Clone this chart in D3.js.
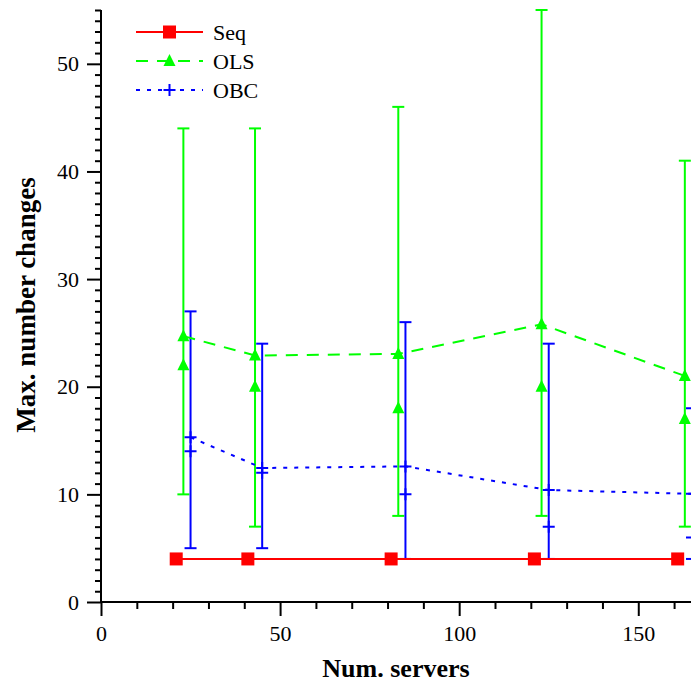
<!DOCTYPE html>
<html>
<head>
<meta charset="utf-8">
<script src="https://cdn.jsdelivr.net/npm/d3@7"></script>
<style>
  body { margin: 0; background: #fff; }
  svg { display: block; font-family: "Liberation Serif", "Times New Roman", serif; }
  svg text { font-family: "Liberation Serif", "Times New Roman", serif; }
</style>
</head>
<body>
<div class="d3-div"></div>
<script>
// Data: x = number of servers, y = max. number changes.
var servers = [20, 40, 80, 120, 160];

var seqValues = [4, 4, 4, 4, 4];

var olsMean = [24.7, 22.9, 23.05, 25.8, 21.0];
var olsMedian = [22, 20, 18, 20, 17];
var olsLow = [10, 7, 8, 8, 7];
var olsHigh = [44, 44, 46, 55, 41];

var obcMean = [15.3, 12.45, 12.6, 10.4, 10.05];
var obcMedian = [14, 12, 10, 7, 6];
var obcLow = [5, 5, 4, 4, 4];
var obcHigh = [27, 24, 26, 24, 18];

var xTicks = [0, 50, 100, 150];
var yTicks = [0, 10, 20, 30, 40, 50];

// Global sizes.
var width = 691;
var height = 686;

var svg = d3.select(".d3-div")
    .append("svg")
    .attr("width", width)
    .attr("height", height);

// Scales (plot runs off the right edge like the original).
var xScale = d3.scaleLinear().domain([0, 165]).range([101, 692]);
var yScale = d3.scaleLinear().domain([0, 55]).range([602, 10]);

// Series, each one shifted a little in x so the bars do not overlap.
var series = [
    {name: "Seq", color: "#ff0000", dash: null, shift: 1, marker: "square", mean: seqValues},
    {name: "OLS", color: "#00ff00", dash: "12,9", shift: 3, marker: "triangle", mean: olsMean,
     median: olsMedian, low: olsLow, high: olsHigh},
    {name: "OBC", color: "#0000ff", dash: "4,7", shift: 5, marker: "plus", mean: obcMean,
     median: obcMedian, low: obcLow, high: obcHigh}
];

/* Draw one marker of the given kind at (cx, cy). */
function drawMarker(g, kind, cx, cy, color) {
    if (kind === "square") {
        g.append("rect").attr("x", cx - 6.5).attr("y", cy - 6.5)
            .attr("width", 13).attr("height", 13).attr("fill", color);
    } else if (kind === "triangle") {
        g.append("path")
            .attr("d", "M" + cx + "," + (cy - 7) + "L" + (cx + 6) + "," + (cy + 5) + "L" + (cx - 6) + "," + (cy + 5) + "Z")
            .attr("fill", color);
    } else {
        g.append("path")
            .attr("d", "M" + (cx - 6) + "," + cy + "H" + (cx + 6) + "M" + cx + "," + (cy - 6) + "V" + (cy + 6))
            .attr("stroke", color).attr("stroke-width", 2).attr("fill", "none");
    }
}

// Axes.
var xAxis = d3.axisBottom(xScale).tickValues(xTicks).tickSize(14).tickPadding(5)
    .tickFormat(d3.format("d"));
var xMinor = d3.axisBottom(xScale).tickValues(d3.range(0, 170, 10).filter(v => v % 50 !== 0))
    .tickSize(7).tickFormat("");
var yAxis = d3.axisLeft(yScale).tickValues(yTicks).tickSize(14).tickPadding(8);
var yMinor = d3.axisLeft(yScale).tickValues(d3.range(0, 56, 1).filter(v => v % 10 !== 0))
    .tickSize(6).tickFormat("");

var xAxisPlot = svg.append("g").attr("id", "x-axis").attr("transform", "translate(0,602)").call(xAxis);
svg.append("g").attr("transform", "translate(0,602)").call(xMinor);
var yAxisPlot = svg.append("g").attr("id", "y-axis").attr("transform", "translate(101,0)").call(yAxis);
svg.append("g").attr("transform", "translate(101,0)").call(yMinor);

// d3 puts font-family="sans-serif" on the axis groups, take it off.
svg.selectAll("g").attr("font-family", null).attr("font-size", null);
svg.selectAll(".domain").remove();
svg.selectAll(".tick line").attr("stroke", "#000").attr("stroke-width", 2);
svg.selectAll(".tick text").style("font-size", "22px").attr("fill", "#000");
xAxisPlot.selectAll(".tick text").attr("dy", "0.9em");

// Axis lines.
svg.append("line").attr("x1", 101).attr("x2", width).attr("y1", 602).attr("y2", 602)
    .attr("stroke", "#000").attr("stroke-width", 2);
svg.append("line").attr("x1", 101).attr("x2", 101).attr("y1", yScale(55)).attr("y2", 603)
    .attr("stroke", "#000").attr("stroke-width", 2);

// Axis titles.
svg.append("text")
    .attr("x", 396).attr("y", 677)
    .attr("text-anchor", "middle")
    .style("font-size", "26px").style("font-weight", "bold")
    .text("Num. servers");
svg.append("text")
    .attr("transform", "translate(35,305) rotate(-90)")
    .attr("text-anchor", "middle")
    .style("font-size", "27px").style("font-weight", "bold")
    .text("Max. number changes");

// Error bars (low, median, high) for OLS and OBC.
series.filter(s => s.low).forEach(function(s) {
    var g = svg.append("g").attr("class", "errorbars-" + s.name);
    servers.forEach(function(v, i) {
        var cx = xScale(v + s.shift);
        g.append("line").attr("x1", cx).attr("x2", cx)
            .attr("y1", yScale(s.low[i])).attr("y2", yScale(s.high[i]))
            .attr("stroke", s.color).attr("stroke-width", 2);
        [s.low[i], s.high[i]].forEach(function(e) {
            g.append("line").attr("x1", cx - 6).attr("x2", cx + 6)
                .attr("y1", yScale(e)).attr("y2", yScale(e))
                .attr("stroke", s.color).attr("stroke-width", 2);
        });
        drawMarker(g, s.marker, cx, yScale(s.median[i]), s.color);
    });
});

// Mean lines with markers.
series.forEach(function(s) {
    var line = d3.line()
        .x((d, i) => xScale(servers[i] + s.shift))
        .y(d => yScale(d));
    svg.append("path")
        .datum(s.mean)
        .attr("d", line)
        .attr("fill", "none")
        .attr("stroke", s.color)
        .attr("stroke-width", 2)
        .attr("stroke-dasharray", s.dash);
    var g = svg.append("g");
    s.mean.forEach(function(d, i) {
        drawMarker(g, s.marker, xScale(servers[i] + s.shift), yScale(d), s.color);
    });
});

// Legend in the upper left corner.
var legend = svg.append("g").attr("id", "legend");
series.forEach(function(s, i) {
    var ly = 32 + i * 29;
    legend.append("line").attr("x1", 136).attr("x2", 203).attr("y1", ly).attr("y2", ly)
        .attr("stroke", s.color).attr("stroke-width", 2).attr("stroke-dasharray", s.dash);
    drawMarker(legend, s.marker, 169.5, ly, s.color);
    legend.append("text").attr("x", 213).attr("y", ly).attr("dy", "0.35em")
        .style("font-size", "22px").text(s.name);
});
</script>
</body>
</html>
